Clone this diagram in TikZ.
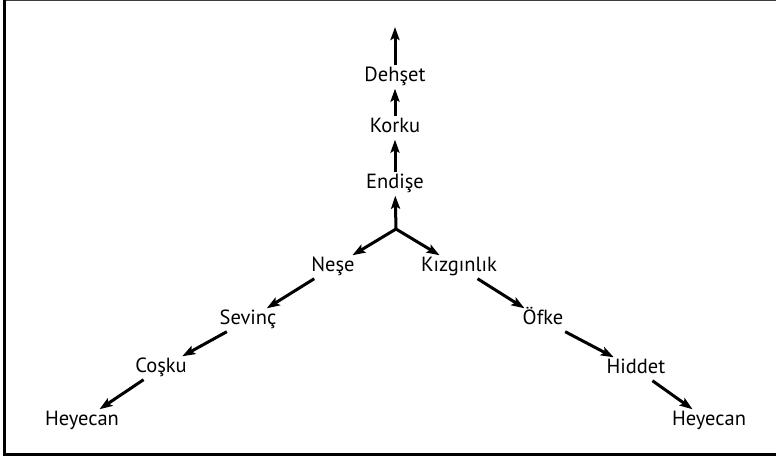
\documentclass[tikz,border=0pt]{standalone}
\usepackage{fontspec}
\setmainfont{PT Sans}
\usepackage{tikz}
\usetikzlibrary{arrows.meta}
\definecolor{framegray}{RGB}{60,60,60}
\tikzset{
  duygu/.style={inner sep=3pt, text height=13pt, text depth=4pt, font=\fontsize{20.5}{24}\selectfont},
  ok/.style={-{Stealth[length=13pt,width=9pt,inset=2.5pt]}, line width=3pt, draw=black},
  frame/.style={line width=3pt, draw=black},
}
\begin{document}
\begin{tikzpicture}[x=1pt,y=-1pt]
    \useasboundingbox (0,0) rectangle (776,457);
    % frame
    \draw[framegray, line width=1.2pt] (4,0.6) -- (776,0.6);
    \draw[frame] (4,0) -- (4,454) -- (776,454);
    % center and the upward chain
    \coordinate (merkez) at (396,229);
    \coordinate (ust) at (395,27);
    \node[duygu] (endise) at (395,184) {Endişe};
    \node[duygu] (korku) at (395,128) {Korku};
    \node[duygu] (dehset) at (395,77) {Dehşet};
    % left branch
    \node[duygu] (nese) at (333,267) {Neşe};
    \node[duygu] (sevinc) at (248,320) {Sevinç};
    \node[duygu] (cosku) at (161,368) {Coşku};
    \node[duygu] (heyecanL) at (82,421) {Heyecan};
    % right branch
    \node[duygu] (kizgin) at (459,267) {Kızgınlık};
    \node[duygu] (ofke) at (543,320) {Öfke};
    \node[duygu] (hiddet) at (636,369) {Hiddet};
    \node[duygu] (heyecanR) at (709,421) {Heyecan};
    \draw[ok] (merkez) -- (endise); \draw[ok] (endise) -- (korku);
    \draw[ok] (korku) -- (dehset); \draw[ok] (dehset) -- (ust);
    \draw[ok] (merkez) -- (nese); \draw[ok] (nese) -- (sevinc);
    \draw[ok] (sevinc) -- (cosku); \draw[ok] (cosku) -- (heyecanL);
    \draw[ok] (merkez) -- (kizgin); \draw[ok] (kizgin) -- (ofke);
    \draw[ok] (ofke) -- (hiddet); \draw[ok] (hiddet) -- (heyecanR);
\end{tikzpicture}
\end{document}
